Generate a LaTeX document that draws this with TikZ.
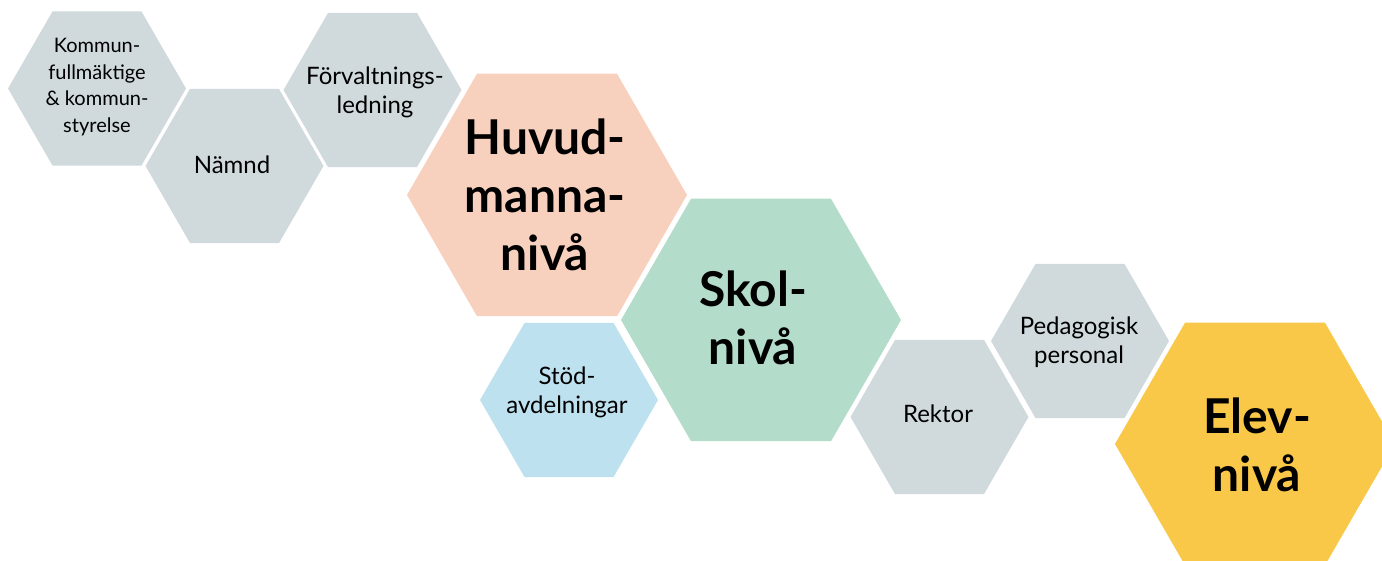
\documentclass[tikz,border=0pt]{standalone}
\usepackage{fontspec}
\setmainfont{Lato}
\usetikzlibrary{shapes.geometric}
\definecolor{hgrey}{RGB}{208,218,221}
\definecolor{hpeach}{RGB}{248,208,190}
\definecolor{hgreen}{RGB}{180,220,202}
\definecolor{hblue}{RGB}{190,225,240}
\definecolor{hyellow}{RGB}{250,200,72}
\tikzset{
  hexs/.style={regular polygon, regular polygon sides=6, minimum size=178pt, inner sep=0pt, draw=none},
  hexl/.style={regular polygon, regular polygon sides=6, minimum size=280pt, inner sep=0pt, draw=none},
  tinytxt/.style={align=center, font=\fontsize{20}{26.5}\selectfont, text=black, inner sep=0pt},
  smalltxt/.style={align=center, font=\fontsize{24}{29}\selectfont, text=black, inner sep=0pt},
  bigtxt/.style={align=center, font=\fontsize{48}{58}\selectfont\bfseries, text=black, inner sep=0pt},
}
\begin{document}
\begin{tikzpicture}[x=1pt,y=1pt]
\useasboundingbox (0,0) rectangle (1382,561);
\clip (0,0) rectangle (1382,561);
\node[hexs, fill=hgrey] (kommun) at (97,472.5) {};
\node[hexs, fill=hgrey] (namnd) at (234.5,395) {};
\node[hexs, fill=hgrey] (forv) at (372.5,471) {};
\node[hexl, fill=hpeach] (huvud) at (547,366) {};
\node[hexl, fill=hgreen] (skol) at (761,241) {};
\node[hexs, fill=hblue] (stod) at (569,161) {};
\node[hexs, fill=hgrey] (rektor) at (939.5,144) {};
\node[hexs, fill=hgrey] (ped) at (1080,220) {};
\node[hexl, fill=hyellow] (elev) at (1255,117) {};
\node[tinytxt] (kommunT) at (97,474) {Kommun-\\fullmäktige\\\&~kommun-\\styrelse};
\node[smalltxt] (namndT) at (232,396) {Nämnd};
\node[smalltxt] (forvT) at (375,469) {Förvaltnings-\\ledning};
\node[bigtxt] (huvudT) at (545,366) {Huvud-\\manna-\\nivå};
\node[bigtxt] (skolT) at (753,243) {Skol-\\nivå};
\node[smalltxt] (stodT) at (567,169) {Stöd-\\avdelningar};
\node[smalltxt] (rektorT) at (938,147) {Rektor};
\node[smalltxt] (pedT) at (1079,219) {Pedagogisk\\personal};
\node[bigtxt] (elevT) at (1257,116) {Elev-\\nivå};
\end{tikzpicture}
\end{document}
